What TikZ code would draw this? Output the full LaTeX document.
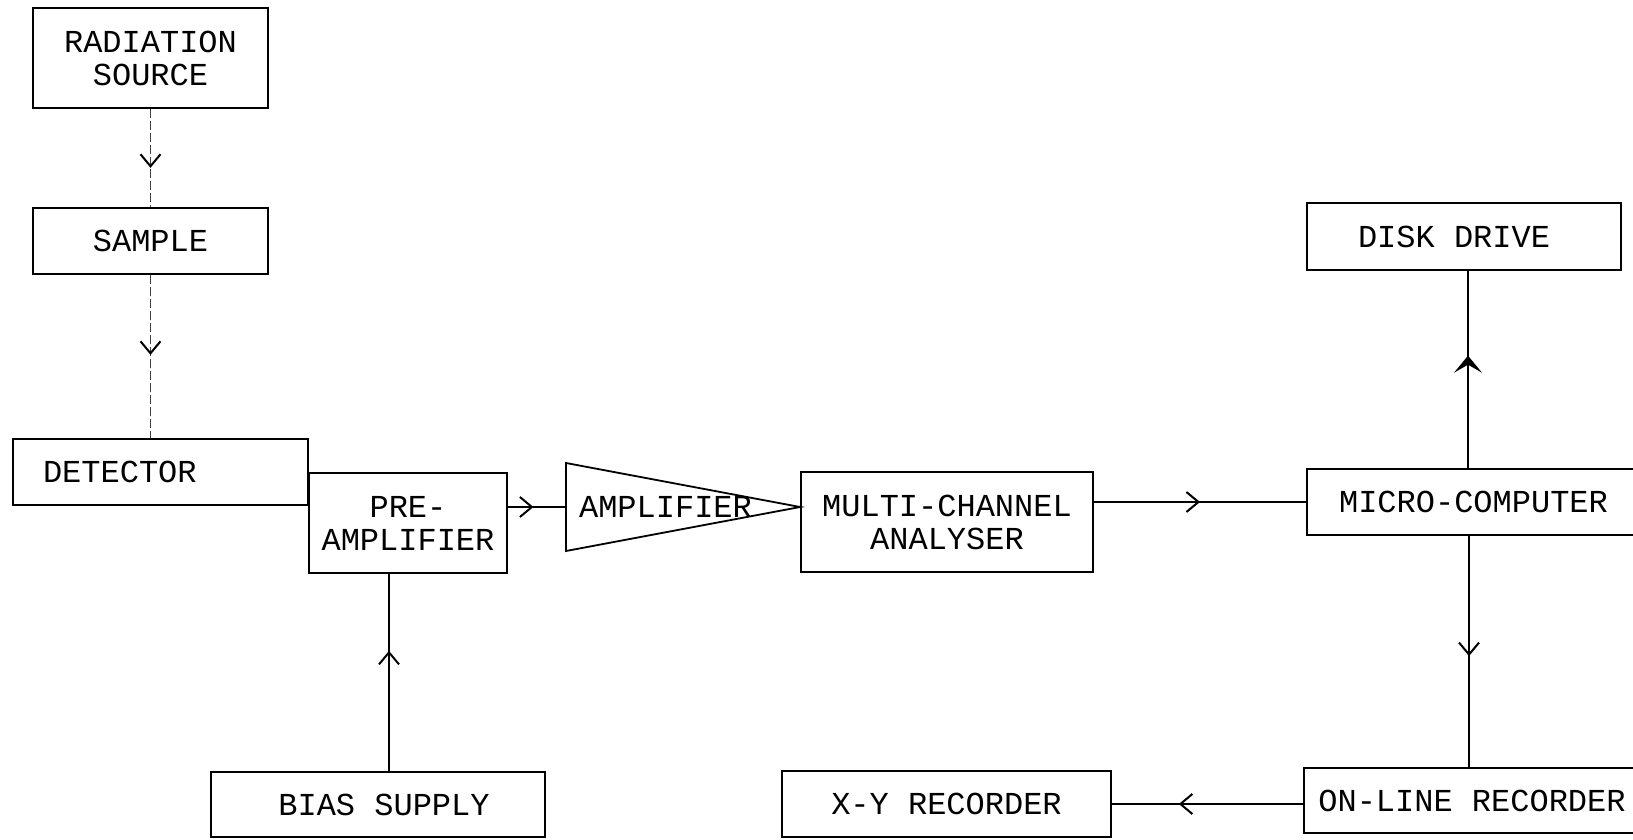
\documentclass[tikz,border=0pt]{standalone}
\usepackage{fontspec}
\setmainfont{Liberation Mono}
\usetikzlibrary{arrows.meta,decorations.markings}
\tikzset{
  txt/.style={font=\fontsize{32}{33}\selectfont},
  box/.style={draw, line width=1.8pt, inner sep=0pt, align=center, txt},
  lbl/.style={inner sep=0pt, align=center, txt},
  wire/.style={line width=1.6pt},
  beam/.style={line width=1.1pt, dash pattern=on 9pt off 3pt, black!75},
  midarr/.style={postaction={decorate}, decoration={markings,
      mark=at position #1 with {\arrow[black, solid]{Straight Barb[length=12pt,width=20pt,line width=2pt]}}}},
  midstealth/.style={postaction={decorate}, decoration={markings,
      mark=at position #1 with {\arrow{Stealth[length=17pt,width=28pt,inset=8pt]}}}},
}
\begin{document}
\begin{tikzpicture}[x=1pt,y=-1pt]
\clip (0,0) rectangle (1633,840);
\fill[white] (0,0) rectangle (1633,840);

% boxes
\node[box, minimum width=235pt, minimum height=100pt] (rad) at (150.5,58) {RADIATION\\SOURCE};
\node[box, minimum width=235pt, minimum height=66pt] (sam) at (150.5,241) {SAMPLE};
\node[box, minimum height=66pt, text width=235pt, inner xsep=30pt, align=left] (det) at (160.5,472) {DETECTOR};
\node[box, minimum width=198pt, minimum height=100pt] (pre) at (408,523) {PRE-\\AMPLIFIER};
\node[box, minimum width=334pt, minimum height=65pt] (bia) at (378,804.5) {\hspace*{12pt}BIAS SUPPLY};
\node[box, minimum width=292pt, minimum height=100pt] (mca) at (947,522) {MULTI-CHANNEL\\ANALYSER};
\node[box, minimum width=314pt, minimum height=67pt] (dsk) at (1464,236.5) {\hspace*{-20pt}DISK DRIVE};
\node[box, minimum width=333pt, minimum height=66pt] (mic) at (1473.5,502) {MICRO-COMPUTER};
\node[box, minimum width=336pt, minimum height=65pt] (onl) at (1472,800.5) {ON-LINE RECORDER};
\node[box, minimum width=329pt, minimum height=66pt] (xy) at (946.5,804) {X-Y RECORDER};

% amplifier triangle
\coordinate (ampL) at (566,507);
\coordinate (ampT) at (566,463);
\coordinate (ampB) at (566,551);
\coordinate (ampA) at (mca.west |- ampL);
\draw[line width=1.8pt, line join=miter] (ampT) -- (ampA) -- (ampB) -- cycle;
\node[lbl] (amp) at (665.5,507) {AMPLIFIER};

% beam path (faint dashed)
\draw[beam, midarr=0.6] (rad.south) -- (sam.north);
\draw[beam, midarr=0.49] (sam.south) -- (sam.south |- det.north);

% signal connectors
\draw[wire, midarr=0.44] (pre.east |- ampL) -- (ampL);
\draw[wire, midarr=0.5] (mca.east |- mic.west) -- (mic.west);
\draw[wire, midstealth=0.57] ([xshift=4pt]dsk.south |- mic.north) -- ([xshift=4pt]dsk.south);
\draw[wire, midarr=0.52] ([xshift=-4.5pt]mic.south) -- ([xshift=-4.5pt]mic.south |- onl.north);
\draw[wire, midarr=0.65] (onl.west |- xy.east) -- (xy.east);
\draw[line width=2pt, midarr=0.61] ([xshift=11pt]bia.north) -- ([xshift=11pt]bia.north |- pre.south);
\end{tikzpicture}
\end{document}
